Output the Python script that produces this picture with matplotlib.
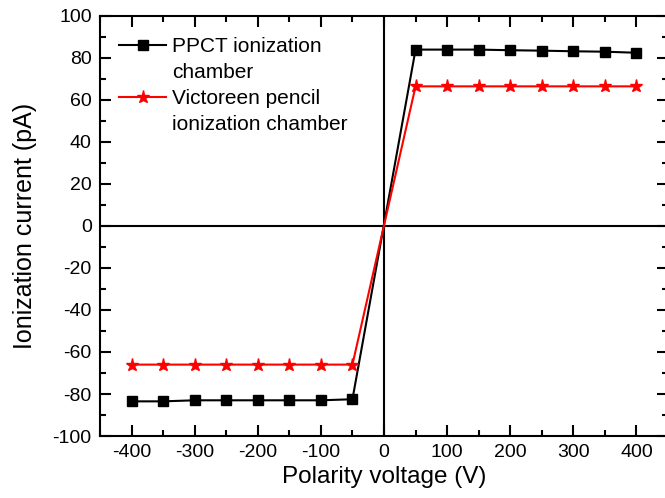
import numpy as np
import matplotlib.pyplot as plt
from matplotlib.lines import Line2D
from matplotlib.ticker import MultipleLocator

plt.rcParams['font.family'] = ['Liberation Sans', 'DejaVu Sans']
plt.rcParams['axes.unicode_minus'] = False

voltage = [-400, -350, -300, -250, -200, -150, -100, -50,
           50, 100, 150, 200, 250, 300, 350, 400]
ppct = [-83.5, -83.5, -83, -83, -83, -83, -83, -82.5,
        84, 84, 84, 83.7, 83.5, 83.2, 83, 82.5]
victoreen = [-66, -66, -66, -66, -66, -66, -66, -66,
             66.5, 66.5, 66.5, 66.5, 66.5, 66.5, 66.5, 66.5]

fig = plt.figure(figsize=(6.65, 4.98), dpi=100)
ax = fig.add_axes([100 / 665, 62 / 498, 568 / 665, 420 / 498])

ax.axhline(0, color='black', lw=1.5, zorder=1)
ax.axvline(0, color='black', lw=1.5, zorder=1)

l1, = ax.plot(voltage, ppct, color='black', marker='s', ms=6.5, lw=1.5, zorder=3)
l2, = ax.plot(voltage, victoreen, color='red', marker='*', ms=9.5, lw=1.5, zorder=4)

ax.set_xlim(-450, 450)
ax.set_ylim(-100, 100)
ax.xaxis.set_major_locator(MultipleLocator(100))
ax.xaxis.set_minor_locator(MultipleLocator(50))
ax.yaxis.set_major_locator(MultipleLocator(20))
ax.yaxis.set_minor_locator(MultipleLocator(10))
ax.tick_params(which='both', direction='in', top=True, right=True, width=1.5)
ax.tick_params(which='major', length=8, labelsize=14, pad=6)
ax.tick_params(which='minor', length=4)
for s in ax.spines.values():
    s.set_linewidth(1.5)

ax.set_xlabel('Polarity voltage (V)', fontsize=17.5, labelpad=3)
ax.set_ylabel('Ionization current (pA)', fontsize=18, labelpad=11)

# labels wrap onto a second line, marker sits on the first one
blank = Line2D([], [], color='none')
ax.legend([l1, blank, l2, blank],
          ['PPCT ionization', 'chamber', 'Victoreen pencil', 'ionization chamber'],
          loc='upper left', frameon=False, fontsize=15, handlelength=2.3,
          handletextpad=0.25, borderaxespad=0.0, labelspacing=0.34,
          bbox_to_anchor=(0.018, 0.97))

fig.savefig('out.png', dpi=100)
